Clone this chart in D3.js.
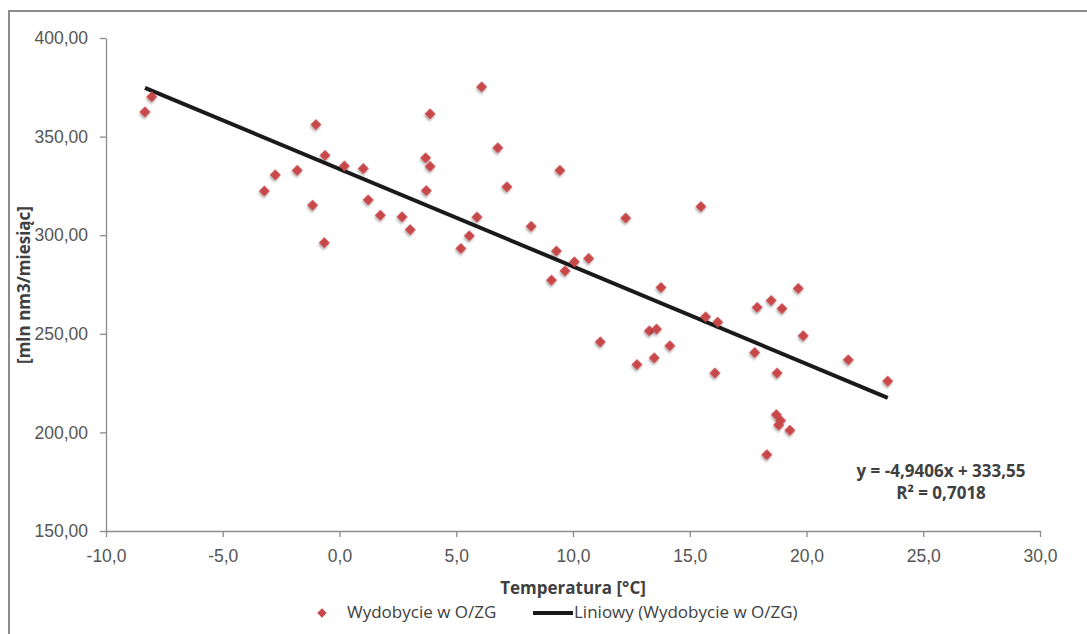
<!DOCTYPE html>
<html>
<head>
<meta charset="utf-8">
<script src="https://cdn.jsdelivr.net/npm/d3@7"></script>
<style>
  body { margin: 0; background: #fff; }
  svg { display: block; font-family: "Open Sans", sans-serif; }
  .tick text { fill: #555; font-size: 17.5px; }
  .domain, .tick line { stroke: #8c8c8c; stroke-width: 1.3; }
</style>
</head>
<body>
<div id="chart"></div>
<script>
// monthly points: temperature [°C] vs production [mln nm3/month]
var temperature = [
  -8.33, -8.04, -3.22, -2.75, -1.81, -1.15, -1.01, -0.65, -0.62, 0.21,
  1.02, 1.23, 1.75, 2.68, 3.03, 3.69, 3.72, 3.88, 3.88, 5.20,
  5.56, 5.89, 6.09, 6.78, 7.17, 8.21, 9.08, 9.29, 9.44, 9.66,
  10.06, 10.67, 11.17, 12.26, 12.74, 13.27, 13.58, 13.48, 13.77, 14.15,
  15.48, 15.68, 16.20, 16.08, 17.78, 17.89, 18.49, 18.74, 18.95, 19.65,
  19.86, 18.30, 18.71, 18.89, 18.81, 19.29, 21.79, 23.48
];
var production = [
  362.5, 370.2, 322.4, 330.6, 332.9, 315.2, 356.1, 296.2, 340.5, 335.1,
  333.8, 317.9, 310.1, 309.3, 302.8, 339.2, 322.6, 334.9, 361.5, 293.3,
  299.7, 309.2, 375.2, 344.3, 324.5, 304.5, 277.2, 292.0, 332.9, 281.9,
  286.5, 288.2, 245.9, 308.7, 234.4, 251.5, 252.4, 237.8, 273.5, 243.9,
  314.5, 258.6, 255.9, 230.1, 240.5, 263.4, 266.9, 230.1, 262.8, 273.0,
  249.0, 188.7, 209.0, 206.0, 203.7, 201.1, 236.8, 226.0
];

var xTicks = [-10, -5, 0, 5, 10, 15, 20, 25, 30];
var yTicks = [150, 200, 250, 300, 350, 400];

// trend line as printed on the chart
var slope = -4.9406;
var intercept = 333.55;
var rSquared = "0,7018";

var svgWidth = 1087;
var svgHeight = 634;

var margin = { top: 38, right: 47, bottom: 103, left: 106 };
var width = svgWidth - margin.left - margin.right;
var height = svgHeight - margin.top - margin.bottom;

var svg = d3
  .select("#chart")
  .append("svg")
  .attr("width", svgWidth)
  .attr("height", svgHeight);

// soft shadow under the markers
var defs = svg.append("defs");
defs
  .append("filter")
  .attr("id", "shadow")
  .attr("x", "-50%")
  .attr("y", "-50%")
  .attr("width", "200%")
  .attr("height", "200%")
  .append("feDropShadow")
  .attr("dx", 1)
  .attr("dy", 2)
  .attr("stdDeviation", 1.3)
  .attr("flood-color", "#000")
  .attr("flood-opacity", 0.3);

// chart frame (runs off the right and bottom edge)
svg
  .append("rect")
  .attr("x", 9)
  .attr("y", 11)
  .attr("width", 1100)
  .attr("height", 660)
  .attr("fill", "#fff")
  .attr("stroke", "#8c8c8c")
  .attr("stroke-width", 2);

var chartGroup = svg
  .append("g")
  .attr("transform", `translate(${margin.left}, ${margin.top})`);

var xScale = d3.scaleLinear().domain([-10, 30]).range([0, width]);
var yScale = d3.scaleLinear().domain([150, 400]).range([height, 0]);

var comma = (fmt) => (d) => d3.format(fmt)(d).replace(".", ",").replace("−", "-");

var bottomAxis = d3
  .axisBottom(xScale)
  .tickValues(xTicks)
  .tickFormat(comma(".1f"))
  .tickSize(6)
  .tickSizeOuter(0)
  .tickPadding(13);

var leftAxis = d3
  .axisLeft(yScale)
  .tickValues(yTicks)
  .tickFormat(comma(".2f"))
  .tickSize(6)
  .tickSizeOuter(0)
  .tickPadding(12);

chartGroup
  .append("g")
  .attr("transform", `translate(0, ${height})`)
  .call(bottomAxis);

chartGroup.append("g").call(leftAxis);

// axis titles
chartGroup
  .append("text")
  .attr("x", width / 2)
  .attr("y", 58)
  .attr("transform", `translate(0, ${height})`)
  .attr("text-anchor", "middle")
  .attr("dominant-baseline", "middle")
  .attr("font-size", "17px")
  .attr("font-weight", "bold")
  .attr("fill", "#404040")
  .text("Temperatura [°C]");

svg
  .append("text")
  .attr("transform", "translate(25, 285) rotate(-90)")
  .attr("text-anchor", "middle")
  .attr("dominant-baseline", "middle")
  .attr("font-size", "17px")
  .attr("font-weight", "bold")
  .attr("fill", "#404040")
  .text("[mln nm3/miesiąc]");

// trend line across the data range
var xExtent = d3.extent(temperature);
var trend = xExtent.map((x) => [x, slope * x + intercept]);

chartGroup
  .append("path")
  .datum(trend)
  .attr("fill", "none")
  .attr("stroke", "#1a1a1a")
  .attr("stroke-width", 4)
  .attr(
    "d",
    d3
      .line()
      .x((d) => xScale(d[0]))
      .y((d) => yScale(d[1]))
  );

// points
var diamond = d3.symbol().type(d3.symbolSquare).size(60);

chartGroup
  .selectAll(".pt")
  .data(temperature.map((t, i) => [t, production[i]]))
  .enter()
  .append("path")
  .attr("class", "pt")
  .attr("d", diamond)
  .attr("transform", (d) => `translate(${xScale(d[0])}, ${yScale(d[1])}) rotate(45)`)
  .attr("fill", "#c8474a")
  .attr("filter", "url(#shadow)");

// equation label
var eq = svg
  .append("text")
  .attr("text-anchor", "middle")
  .attr("font-size", "17px")
  .attr("font-weight", "bold")
  .attr("fill", "#404040");

eq.append("tspan")
  .attr("x", 941)
  .attr("y", 477)
  .text(`y = ${String(slope).replace(".", ",")}x + ${String(intercept).replace(".", ",")}`);

eq.append("tspan")
  .attr("x", 941)
  .attr("y", 499)
  .text(`R² = ${rSquared}`);

// legend
var legend = svg.append("g").attr("transform", "translate(0, 613)");

legend
  .append("path")
  .attr("d", d3.symbol().type(d3.symbolSquare).size(44))
  .attr("transform", "translate(322, 0) rotate(45)")
  .attr("fill", "#c8474a");

legend
  .append("text")
  .attr("x", 347)
  .attr("dominant-baseline", "middle")
  .attr("font-size", "17px")
  .attr("fill", "#404040")
  .text("Wydobycie w O/ZG");

legend
  .append("line")
  .attr("x1", 533)
  .attr("x2", 573)
  .attr("stroke", "#1a1a1a")
  .attr("stroke-width", 4);

legend
  .append("text")
  .attr("x", 574)
  .attr("dominant-baseline", "middle")
  .attr("font-size", "17px")
  .attr("fill", "#404040")
  .text("Liniowy (Wydobycie w O/ZG)");
</script>
</body>
</html>
